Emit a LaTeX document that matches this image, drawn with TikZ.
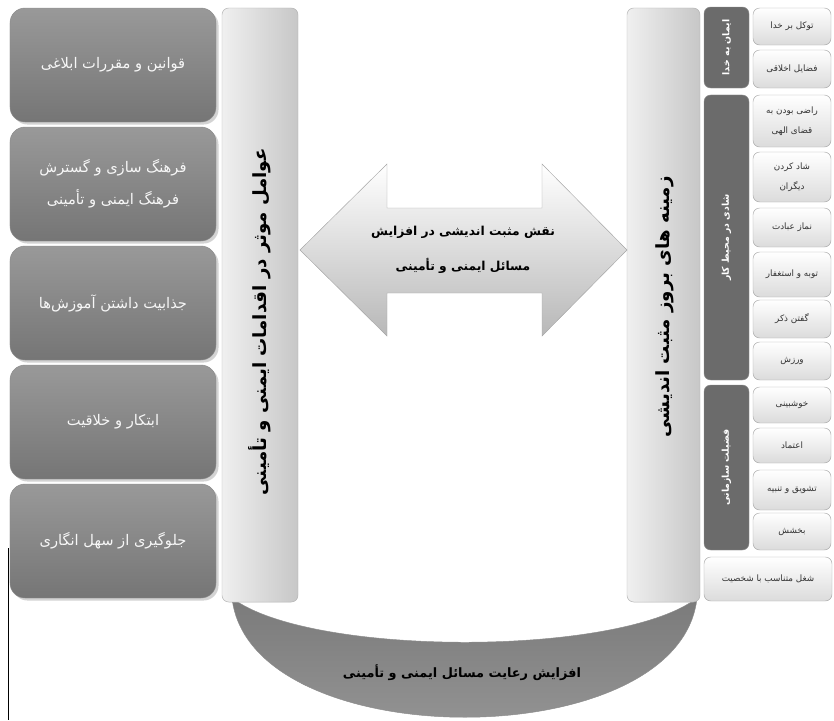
\documentclass[tikz,border=0pt]{standalone}
\usepackage{fontspec}
\newfontfamily\arabicfont[Script=Arabic]{DejaVu Sans}
\TeXXeTstate=1
\usetikzlibrary{shadows}
\newcommand{\rtl}[1]{\beginR#1\endR}

\begin{document}
\begin{tikzpicture}[x=0.03cm,y=-0.03cm,
leftbox/.style={rounded corners=0.45cm,minimum width=6.18cm,minimum height=3.42cm,top color=black!40,bottom color=black!54,draw=black!45,drop shadow={opacity=0.35},text=black!3,align=center,font=\arabicfont\fontsize{12.5}{27}\selectfont},
bar/.style={rounded corners=0.2cm,left color=black!6,right color=black!22,draw=black!30,minimum height=17.82cm},
bartitle/.style={rotate=90,font=\arabicfont\bfseries\fontsize{15.5}{18}\selectfont},
catbox/.style={rotate=90,rounded corners=0.2cm,fill=black!58,draw=black!45,minimum height=1.35cm,text=white,font=\arabicfont\bfseries\fontsize{8}{10}\selectfont},
itembox/.style={rounded corners=0.2cm,minimum width=2.34cm,top color=white,bottom color=black!14,draw=black!35,text=black!80,align=center,font=\arabicfont\fontsize{7.5}{17}\selectfont},
titletext/.style={align=center,font=\arabicfont\bfseries\fontsize{10.5}{30}\selectfont}]
\useasboundingbox (0,0) rectangle (834,720);
\draw[top color=black!52,bottom color=black!40,draw=black!45] (232,598) .. controls (250,757) and (680,757) .. (697,598) .. controls (620,657) and (310,657) .. cycle;
\node[bar,minimum width=2.28cm] (leftbar) at (260,305) {};
\node[bar,minimum width=2.19cm] (rightbar) at (663.5,305) {};
\draw[top color=white,bottom color=black!28,draw=black!35] (300,250) -- (387,164) -- (387,208) -- (542,208) -- (542,164) -- (627,250) -- (542,336) -- (542,293) -- (387,293) -- (387,336) -- cycle;
\foreach \n/\y/\t in {law/65/{\rtl{قوانین و مقررات ابلاغی}},culture/184/{\rtl{فرهنگ سازی و گسترش}\\\rtl{فرهنگ ایمنی و تأمینی}},training/303/{\rtl{جذابیت داشتن آموزش‌ها}},idea/422/{\rtl{ابتکار و خلاقیت}},neglect/541/{\rtl{جلوگیری از سهل انگاری}}}{
\node[leftbox] (\n) at (113,\y) {\t};
}
\node[catbox,minimum width=2.43cm] (faith) at (726.5,47.5) {\rtl{ایمان به خدا}};
\node[catbox,minimum width=8.55cm] (joy) at (726.5,237.5) {\rtl{شادی در محیط کار}};
\node[catbox,minimum width=4.95cm] (virtue) at (726.5,467.5) {\rtl{فضیلت سازمانی}};
\foreach \n/\y/\h/\t in {1/26.5/37/{\rtl{توکل بر خدا}},2/69/38/{\rtl{فضایل اخلاقی}},3/121/52/{\rtl{راضی بودن به}\\\rtl{قضای الهی}},4/177/50/{\rtl{شاد کردن}\\\rtl{دیگران}},5/227.5/39/{\rtl{نماز عبادت}},6/274.5/45/{\rtl{توبه و استغفار}},7/319/38/{\rtl{گفتن ذکر}},8/361/38/{\rtl{ورزش}},9/405/36/{\rtl{خوشبینی}},10/445.5/35/{\rtl{اعتماد}},11/490/40/{\rtl{تشویق و تنبیه}},12/531.5/37/{\rtl{بخشش}}}{
\node[itembox,minimum height=\h*0.03cm] (item\n) at (792,\y) {\t};
}
\node[itembox,minimum width=3.84cm,minimum height=1.32cm] (job) at (768,579) {\rtl{شغل متناسب با شخصیت}};
\node[bartitle] (factors) at (260,322) {\rtl{عوامل موثر در اقدامات ایمنی و تأمینی}};
\node[bartitle] (grounds) at (665,307) {\rtl{زمینه های بروز مثبت اندیشی}};
\node[titletext] (role) at (463,250) {\rtl{نقش مثبت اندیشی در افزایش}\\\rtl{مسائل ایمنی و تأمینی}};
\node[titletext,font=\arabicfont\bfseries\fontsize{11}{13}\selectfont] (rise) at (462,673) {\rtl{افزایش رعایت مسائل ایمنی و تأمینی}};
\draw[line width=0.8pt] (8,548) -- (8,720);
\end{tikzpicture}
\end{document}
